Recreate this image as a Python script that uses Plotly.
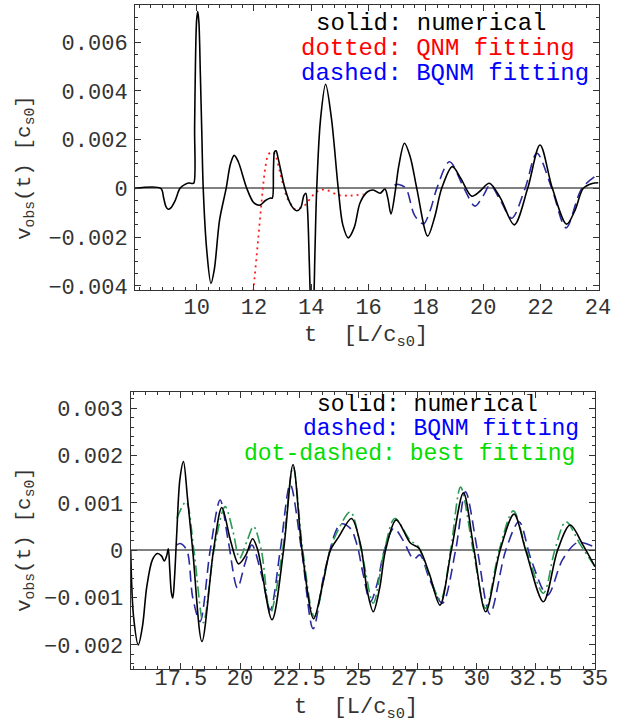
import plotly.graph_objects as go

W, H = 623, 723

# ---------------- upper panel data ----------------
t_num_a = [7.85, 8.75, 8.85, 8.93, 9.01, 9.1, 9.25, 9.42, 9.58, 9.72, 9.85, 9.905,
           9.93, 9.96, 10.0, 10.04, 10.08, 10.13, 10.18, 10.23, 10.35, 10.5, 10.62,
           10.8, 11.03, 11.18, 11.31, 11.45, 11.75, 12.0, 12.21, 12.4, 12.58, 12.64,
           12.68, 12.72, 12.77, 12.85, 13.08, 13.3, 13.49, 13.63, 13.74, 13.81, 13.87,
           13.93, 13.98, 14.03, 14.08, 14.13, 14.19, 14.32, 14.5, 14.7, 14.94, 15.1,
           15.29, 15.5, 15.7, 15.95, 16.16, 16.4, 16.57, 16.67, 16.78, 16.92, 17.05,
           17.25, 17.45, 17.68, 18.06, 18.3, 18.55, 18.92, 19.22, 19.6, 19.9, 20.21,
           20.6, 21.08, 21.55, 21.98, 22.41, 22.91, 23.2, 23.49, 23.8, 24.02]
v_num_a = [0.0, 0.0, -0.0004, -0.00075, -0.00086, -0.0008, -0.0005, 0.0, 0.00015,
           0.00022, 0.0002, 0.00022, 0.0025, 0.0052, 0.0069, 0.00725, 0.0068, 0.0047,
           0.0023, 0.0, -0.0025, -0.0039, -0.0033, -0.0013, 0.0, 0.001, 0.00135,
           0.0011, 0.0, -0.0006, -0.00069, -0.0005, -0.0004, -0.0004, 0.0008, 0.0015,
           0.00154, 0.0012, 0.0, -0.0007, -0.00092, -0.0008, -0.0003, -0.0002, -0.0009,
           -0.003, -0.0048, -0.0055, -0.0048, -0.0025, 0.0, 0.0028, 0.00427, 0.0029,
           0.0, -0.0015, -0.00203, -0.0016, -0.0006, -0.00015, -0.00007, -0.0002,
           -0.00003, -0.0004, -0.00105, -0.0002, 0.0009, 0.00185, 0.0013, 0.0, -0.00196,
           -0.0012, 0.0, 0.00089, 0.0004, -0.00032, -0.0001, 0.00021, -0.0004, -0.0015,
           0.0, 0.00178, 0.0, -0.00147, -0.0009, 0.0, 0.0002, 0.00023]

t_qnm = [11.9, 11.98, 12.15, 12.27, 12.39, 12.5, 12.62, 12.73, 12.91, 13.14, 13.32,
         13.46, 13.62, 13.78, 14.07, 14.3, 14.5, 14.94, 15.35, 15.82]
v_qnm = [-0.0052, -0.0042, -0.00205, -0.0005, 0.0008, 0.00138, 0.0015, 0.0014,
         0.00065, -0.00034, -0.0007, -0.00087, -0.0008, -0.00069, -0.00027, -0.00007,
         -0.00006, -0.00027, -0.0003, -0.00024]

t_bqnm_a = [16.9, 17.05, 17.3, 17.6, 17.91, 18.15, 18.38, 18.82, 19.33, 19.71, 20.0,
            20.24, 20.6, 20.99, 21.46, 21.87, 22.39, 22.89, 23.44, 24.02]
v_bqnm_a = [0.00014, 0.00016, 0.0, -0.0011, -0.00146, -0.0009, 0.0, 0.00109, 0.0,
            -0.00073, -0.0003, 0.00014, -0.0005, -0.00123, 0.0, 0.00144, 0.0, -0.00162,
            0.0, 0.00059]

# ---------------- lower panel data ----------------
t_num_b = [15.38, 15.5, 15.7, 15.88, 16.06, 16.3, 16.51, 16.68, 16.8, 16.9, 16.97,
           17.03, 17.1, 17.16, 17.23, 17.33, 17.46, 17.61, 17.78, 18.0, 18.39, 18.88,
           19.23, 19.6, 19.94, 20.25, 20.53, 20.75, 21.35, 21.84, 22.24, 22.62, 23.11,
           23.5, 23.82, 24.17, 24.71, 25.1, 25.37, 25.63, 25.9, 26.15, 26.6, 27.2,
           27.56, 28.0, 28.45, 28.93, 29.44, 29.89, 30.38, 30.99, 31.58, 32.07, 32.82,
           33.42, 33.95, 34.5, 35.0]
v_num_b = [0.0, -0.0014, -0.002, -0.0016, -0.00077, -0.0002, -0.00007, -0.00012,
           -0.00023, -0.00012, 0.00003, -0.0004, -0.0009, -0.00101, -0.0006, 0.0004,
           0.0015, 0.00187, 0.0011, 0.0, -0.00193, 0.0, 0.0009, 0.0002, -0.00029, -0.0001,
           0.00024, 0.0, -0.00147, 0.0, 0.00181, 0.0, -0.00145, -0.0007, 0.0, 0.00028,
           0.00067, 0.0001, -0.00084, -0.0013, -0.0008, 0.0, 0.00064, 0.00015, 0.00004,
           -0.0005, -0.00116, 0.0, 0.00121, 0.0, -0.0013, 0.0, 0.00076, 0.0, -0.00109,
           0.0, 0.00053, 0.0001, -0.00035]

t_bqnm_b = [17.33, 17.47, 17.75, 18.0, 18.31, 18.74, 19.16, 19.5, 19.89, 20.2, 20.5,
            20.9, 21.28, 21.7, 22.12, 22.6, 23.09, 23.6, 24.24, 24.66, 24.95, 25.2,
            25.51, 25.8, 26.1, 26.5, 26.9, 27.34, 27.6, 28.0, 28.55, 29.11, 29.53, 30.03,
            30.56, 31.23, 31.79, 32.3, 32.99, 33.63, 34.26, 35.0]
v_bqnm_b = [0.00011, 0.00014, 0.0, -0.001, -0.00151, 0.0, 0.00106, 0.0002, -0.0008,
            -0.0003, 0.00011, -0.0005, -0.00126, 0.0, 0.00139, 0.0, -0.00166, -0.0004,
            0.00055, 0.00046, 0.0001, -0.0005, -0.00109, -0.0007, 0.0, 0.00046, 0.0002,
            -0.00019, -0.0001, -0.0006, -0.00112, 0.0, 0.00123, 0.0, -0.00135, 0.0, 0.0006,
            -0.0002, -0.00095, -0.0002, 0.00016, 0.00006]

t_best = [17.33, 17.72, 18.05, 18.45, 18.9, 19.37, 19.7, 19.98, 20.3, 20.57, 20.9,
          21.28, 21.8, 22.24, 22.65, 23.14, 23.8, 24.17, 24.66, 25.2, 25.63, 26.1,
          26.54, 27.2, 27.5, 27.9, 28.47, 28.9, 29.32, 29.85, 30.38, 30.95, 31.55, 32.1,
          32.82, 33.3, 33.77, 34.4, 35.0]
v_best = [0.00067, 0.00102, 0.0, -0.00153, 0.0, 0.00092, 0.0004, -0.00017, 0.0002,
          0.0005, 0.0, -0.00133, 0.0, 0.00176, 0.0, -0.0014, 0.0, 0.00045, 0.00081,
          -0.0002, -0.00112, 0.0, 0.00067, 0.0002, 0.0001, -0.0004, -0.00105, 0.0,
          0.00133, 0.0, -0.00123, 0.0, 0.00083, 0.0, -0.00091, 0.0, 0.0006, 0.0001,
          -0.00035]

# tick labels
xt_a = [10, 12, 14, 16, 18, 20, 22, 24]
yt_a = [0.006, 0.004, 0.002, 0, -0.002, -0.004]
xt_b = [17.5, 20, 22.5, 25, 27.5, 30, 32.5, 35]
yt_b = [0.003, 0.002, 0.001, 0, -0.001, -0.002]


def fmt(v):
    if v == 0:
        return "0"
    s = f"{abs(v):g}"
    return ("\u2212" + s) if v < 0 else s


MONO = "Courier New, Courier, Nimbus Mono PS, FreeMono, Liberation Mono, monospace"
FRAME = "#333333"
TXT = "#333333"


def px(x):
    return x / W


def py(y):
    return 1 - y / H


fig = go.Figure()


def curve(t, v, color, dash, ax, width=1.6):
    fig.add_trace(go.Scatter(
        x=t, y=v, mode="lines", xaxis=ax[0], yaxis=ax[1],
        line=dict(color=color, width=width, dash=dash, shape="spline", smoothing=0.9),
        hoverinfo="skip", showlegend=False))


curve(t_qnm, v_qnm, "#ff1a1a", "2px,4px", ("x", "y"), 1.8)
curve(t_bqnm_a, v_bqnm_a, "#2a2a9e", "11px,6px", ("x", "y"))
curve(t_num_a, v_num_a, "#000000", "solid", ("x", "y"))

curve(t_bqnm_b, v_bqnm_b, "#2a2a9e", "11px,6px", ("x2", "y2"))
curve(t_best, v_best, "#2a9a55", "11px,4px,2px,4px", ("x2", "y2"))
curve(t_num_b, v_num_b, "#000000", "solid", ("x2", "y2"))


def axis(domain, rng, tickvals, minor_dtick, standoff, anchor, zero=False):
    return dict(
        domain=domain, range=rng, anchor=anchor, automargin=False,
        showline=True, linecolor=FRAME, linewidth=1, mirror="allticks",
        ticks="inside", ticklen=6, tickwidth=1, tickcolor=FRAME,
        tickmode="array", tickvals=tickvals, ticktext=[fmt(v) for v in tickvals],
        tickfont=dict(family=MONO, size=22, color=TXT),
        ticklabelstandoff=standoff,
        showgrid=False,
        zeroline=zero, zerolinecolor="#808080", zerolinewidth=2,
        minor=dict(ticks="inside", ticklen=3, tickwidth=1, tickcolor=FRAME,
                   tickmode="linear", tick0=0, dtick=minor_dtick, showgrid=False),
    )


fig.update_layout(
    template="none",
    width=W, height=H, margin=dict(l=0, r=0, t=0, b=0),
    paper_bgcolor="white", plot_bgcolor="white",
    xaxis=axis([px(135), px(598.5)], [7.85, 24.02], xt_a, 0.4, -3, "y"),
    yaxis=axis([py(290), py(5)], [-0.00417, 0.00752], yt_a, 0.0005, 2, "x", True),
    xaxis2=axis([px(130.7), px(595)], [15.38, 35.0], xt_b, 0.5, -11, "y2"),
    yaxis2=axis([py(669), py(392)], [-0.00251, 0.00334], yt_b, 0.0002, 2, "x2", True),
)


def label(x, y, text, color="#000000", size=24, anchor="left", angle=0, height=None):
    fig.add_annotation(x=px(x), y=py(y), xref="paper", yref="paper", text=text,
                       showarrow=False, xanchor=anchor, yanchor="middle",
                       textangle=angle, height=height, valign="middle",
                       font=dict(family=MONO, size=size, color=color))


# key texts, upper panel
label(314, 24, "solid: numerical", height=23)
label(299, 49, "dotted: QNM fitting", "#ff0000", height=23)
label(299, 74, "dashed: BQNM fitting", "#0000ff", height=23)
# key texts, lower panel
label(315, 405, "solid: numerical", size=23, height=22)
label(301, 429, "dashed: BQNM fitting", "#0000ff", size=23, height=22)
label(242, 453.5, "dot-dashed: best fitting", "#00dd00", size=23, height=22)

# axis titles
xtitle = "t&nbsp; [L/c<sub>s0</sub>]"
ytitle = "v<sub>obs</sub>(t) [c<sub>s0</sub>]"
label(366, 337, xtitle, TXT, 22, "center")
label(356, 709, xtitle, TXT, 22, "center")
label(25, 168, ytitle, TXT, 21, "center", -90)
label(25, 540, ytitle, TXT, 21, "center", -90)

fig.write_html("out.html")
